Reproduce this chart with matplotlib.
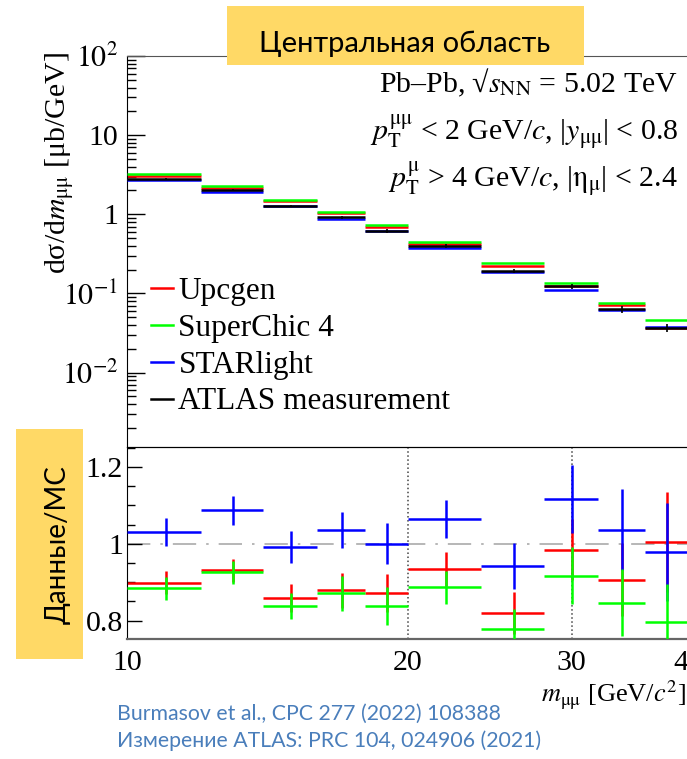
import numpy as np
import matplotlib
matplotlib.use("Agg")
import matplotlib.pyplot as plt
from matplotlib.lines import Line2D
from matplotlib.patches import Rectangle

plt.rcParams['font.family'] = ['Liberation Serif', 'DejaVu Serif']
plt.rcParams['mathtext.fontset'] = 'stix'

# bins in m_mumu [GeV/c^2]
edges = np.array([10, 12, 14, 16, 18, 20, 24, 28, 32, 36, 40])

# d sigma / d m  [ub/GeV]
atlas = [2.80, 2.03, 1.27, 0.915, 0.615, 0.400, 0.195, 0.123, 0.0635, 0.0368]
atlas_err = [0.08, 0.06, 0.045, 0.04, 0.03, 0.02, 0.011, 0.010, 0.0065, 0.0045]
upcgen = [3.03, 2.17, 1.47, 1.04, 0.70, 0.426, 0.224, 0.125, 0.0719, 0.0365]
superchic = [3.21, 2.26, 1.52, 1.06, 0.73, 0.446, 0.240, 0.135, 0.0762, 0.046]
starlight = [2.72, 1.92, 1.28, 0.88, 0.615, 0.380, 0.186, 0.110, 0.0612, 0.0375]

# data / MC
ratio_upcgen = [0.899, 0.931, 0.859, 0.879, 0.872, 0.934, 0.820, 0.985, 0.906, 1.005]
ratio_upcgen_err = [0.031, 0.030, 0.036, 0.045, 0.050, 0.044, 0.055, 0.080, 0.095, 0.130]
ratio_superchic = [0.884, 0.926, 0.838, 0.871, 0.838, 0.887, 0.779, 0.917, 0.846, 0.795]
ratio_superchic_err = [0.030, 0.030, 0.035, 0.045, 0.050, 0.043, 0.050, 0.075, 0.087, 0.100]
ratio_starlight = [1.031, 1.087, 0.991, 1.036, 1.000, 1.065, 0.941, 1.117, 1.037, 0.979]
ratio_starlight_err = [0.036, 0.038, 0.041, 0.047, 0.053, 0.050, 0.060, 0.089, 0.105, 0.128]

centers = 0.5 * (edges[:-1] + edges[1:])
lo, hi = edges[:-1], edges[1:]

W, H = 687, 759
fig = plt.figure(figsize=(W / 100, H / 100), dpi=100)

def fx(px):
    return px / W

def fy(py):
    return 1 - py / H

ax1 = fig.add_axes([fx(127), fy(447), fx(688 - 127), (447 - 56) / H])
ax2 = fig.add_axes([fx(127), fy(639), fx(688 - 127), (639 - 447) / H])

lw = 1.8
fs = 21.5

# top panel
ax1.hlines(upcgen, lo, hi, color='#ff0000', lw=lw, zorder=2)
ax1.hlines(superchic, lo, hi, color='#00ff00', lw=lw, zorder=3)
ax1.hlines(starlight, lo, hi, color='#0000ff', lw=lw, zorder=4)
ax1.hlines(atlas, lo, hi, color='black', lw=lw, zorder=5)
ax1.vlines(centers, np.array(atlas) - np.array(atlas_err),
           np.array(atlas) + np.array(atlas_err), color='black', lw=1.2, zorder=5)

ax1.set_xscale('log')
ax1.set_yscale('log')
ax1.set_xlim(10, 40)
ax1.set_ylim(1.15e-3, 100)
ax1.set_yticks([1e-2, 1e-1, 1, 10, 100])
ax1.set_yticklabels([r'$10^{-2}$', r'$10^{-1}$', '1', '10', r'$10^{2}$'])
ax1.tick_params(axis='x', which='both', bottom=False, top=False, labelbottom=False)
ax1.tick_params(axis='y', which='major', direction='in', length=13, width=1,
                labelsize=fs, pad=6.5)
ax1.tick_params(axis='y', which='minor', direction='in', length=6.5, width=1)
ax1.spines['right'].set_visible(False)
ax1.spines['top'].set_color('#555555')
ax1.patch.set_alpha(0)

# labels, top right
tx = fx(678)
fig.text(tx, fy(92), r'Pb–Pb, √$s_{\mathrm{NN}}$ = 5.02 TeV', ha='right',
         va='baseline', fontsize=fs)
fig.text(tx, fy(141), r'$p_{\mathrm{T}}^{\mathrm{μμ}}$ < 2 GeV/$c$, |$y_{\mathrm{μμ}}$| < 0.8',
         ha='right', va='baseline', fontsize=fs)
fig.text(tx, fy(188), r'$p_{\mathrm{T}}^{\mathrm{μ}}$ > 4 GeV/$c$, |$\mathrm{η}_{\mathrm{μ}}$| < 2.4',
         ha='right', va='baseline', fontsize=fs)

handles = [Line2D([], [], color=c, lw=lw) for c in ['#ff0000', '#00ff00', '#0000ff', 'black']]
labels = ['Upcgen', 'SuperChic 4', 'STARlight', 'ATLAS measurement']
ax1.legend(handles, labels, loc='upper left', bbox_to_anchor=(fx(151), fy(277)),
           bbox_transform=fig.transFigure, frameon=False, fontsize=22.5,
           handlelength=0.7, handletextpad=0.18, labelspacing=0.25,
           borderpad=0, borderaxespad=0)

fig.text(fx(60), fy(163), r'dσ/d$m_{\mathrm{μμ}}$ [μb/GeV]', rotation=90,
         ha='center', va='center', fontsize=fs)

# ratio panel
ax2.axhline(1.0, color='#aaaaaa', lw=1.2, ls=(0, (14, 6, 1.5, 6)), zorder=1)
for xv in [20, 30]:
    ax2.axvline(xv, color='#444444', lw=1.1, ls=':', zorder=1)

series = [
    (ratio_upcgen, ratio_upcgen_err, '#ff0000', 2),
    (ratio_starlight, ratio_starlight_err, '#0000ff', 3),
    (ratio_superchic, ratio_superchic_err, '#00ff00', 4),
]
for vals, errs, col, z in series:
    vals = np.array(vals)
    errs = np.array(errs)
    ax2.hlines(vals, lo, hi, color=col, lw=lw, zorder=z)
    ax2.vlines(centers, vals - errs, vals + errs, color=col, lw=lw, zorder=z)

ax2.set_xscale('log')
ax2.set_xlim(10, 40)
ax2.set_ylim(0.752, 1.252)
ax2.set_xticks([10, 20, 30, 40])
ax2.set_xticklabels(['10', '20', '30', '40'])
ax2.xaxis.set_minor_locator(matplotlib.ticker.NullLocator())
ax2.tick_params(axis='x', which='major', length=0, labelsize=fs, pad=8)
ax2.set_yticks([0.8, 1.0, 1.2])
ax2.set_yticklabels(['0.8', '1', '1.2'])
ax2.yaxis.set_minor_locator(matplotlib.ticker.MultipleLocator(0.05))
ax2.tick_params(axis='y', which='major', direction='in', length=11, width=1,
                labelsize=fs, pad=3)
ax2.tick_params(axis='y', which='minor', direction='in', length=6, width=1)
ax2.spines['right'].set_visible(False)
ax2.spines['bottom'].set_color('#666666')
ax2.spines['bottom'].set_linewidth(1.6)
ax2.patch.set_alpha(0)

fig.text(fx(686), fy(695), r'$m_{\mathrm{μμ}}$ [GeV/$c^{2}$]', ha='right', va='center',
         fontsize=19)

# overlay boxes and notes
sans = ['Lato', 'Open Sans', 'DejaVu Sans']
fig.add_artist(Rectangle((fx(227), fy(65)), fx(584 - 227), (65 - 6) / H,
                         transform=fig.transFigure, facecolor='#ffd966',
                         edgecolor='none', zorder=5))
fig.text(fx(405), fy(44), 'Центральная область', ha='center', va='center',
         fontsize=21, family=sans, zorder=6)

fig.add_artist(Rectangle((fx(16), fy(659)), fx(83 - 16), (659 - 429) / H,
                         transform=fig.transFigure, facecolor='#ffd966',
                         edgecolor='none', zorder=5))
fig.text(fx(58), fy(545), 'Данные/MC', rotation=90, ha='center', va='center',
         fontsize=20, family=sans, zorder=6)

fig.text(fx(117), fy(714), 'Burmasov et al., CPC 277 (2022) 108388', ha='left',
         va='center', fontsize=15.3, family=sans, color='#4a7ebb')
fig.text(fx(117), fy(741), 'Измерение ATLAS: PRC 104, 024906 (2021)', ha='left',
         va='center', fontsize=15.3, family=sans, color='#4a7ebb')

fig.savefig('out.png', dpi=100)
